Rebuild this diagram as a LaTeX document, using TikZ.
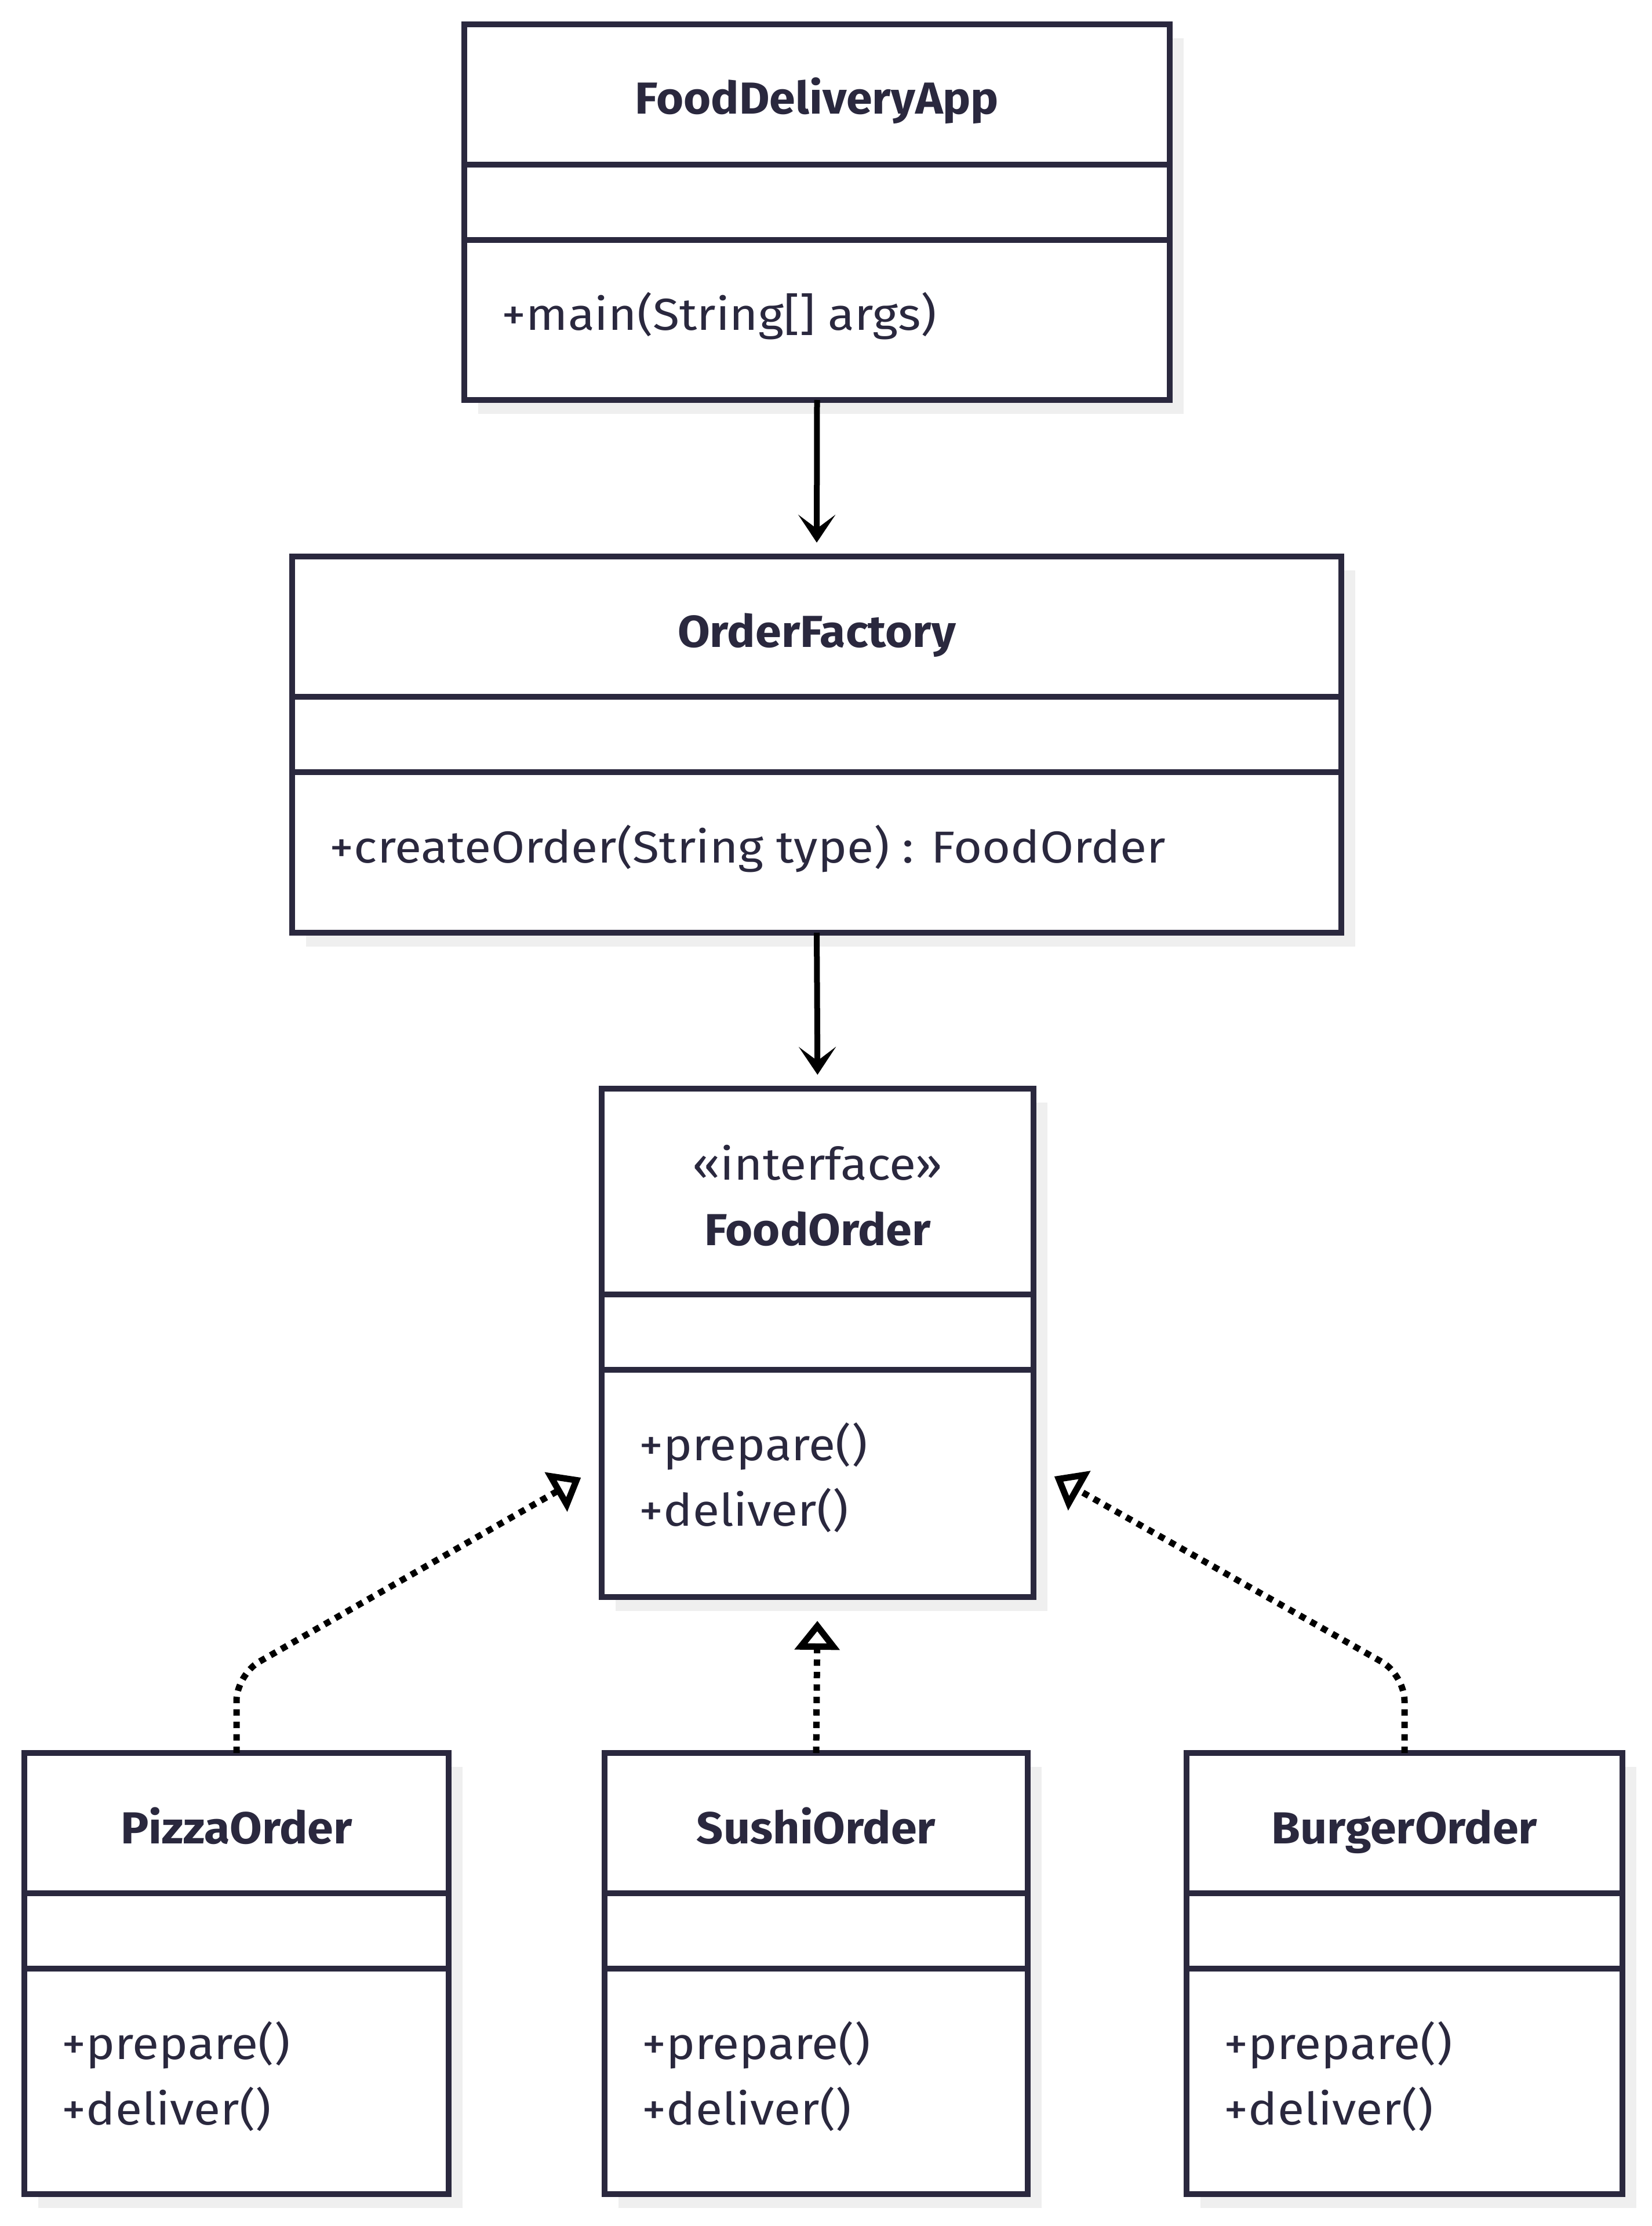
\documentclass[tikz,border=0pt]{standalone}
\usepackage{fontspec}
\setmainfont{Fira Sans}[FakeStretch=1.09, BoldFeatures={FakeStretch=1.045}]
\usetikzlibrary{arrows.meta,shadows,calc}
\definecolor{umlink}{HTML}{2A283E}
\definecolor{umlshadow}{HTML}{EFEFEF}
\newcommand{\umlfont}{\fontsize{22}{26}\selectfont}
\tikzset{
	classbox/.style={draw=umlink, line width=0.105cm, fill=white, inner sep=0pt, outer sep=0pt,
		drop shadow={shadow xshift=0.24cm, shadow yshift=-0.24cm, fill=umlshadow, opacity=1}},
	classline/.style={draw=umlink, line width=0.105cm},
	classtitle/.style={text=umlink, font=\umlfont\bfseries, inner sep=0pt, anchor=base},
	classmember/.style={text=umlink, font=\umlfont, inner sep=0pt, anchor=base west},
	realize/.style={-{Triangle[open, length=0.5cm, width=0.76cm]}, line width=0.11cm,
		dash pattern=on 0.11cm off 0.105cm, shorten >=0.41cm, rounded corners=0.45cm},
}
% name, top centre, width, title baseline, header height, total height, title, members
\newcommand{\umlclass}[8]{%
	\node[classbox, anchor=north, minimum width=#3, minimum height=#6] (#1) at #2 {};
	\draw[classline] ([yshift=-#5]#1.north west) -- ([yshift=-#5]#1.north east);
	\draw[classline] ([yshift=-#5-1.3cm]#1.north west) -- ([yshift=-#5-1.3cm]#1.north east);
	\node[classtitle] at ([yshift=-#4]#1.north) {#7};
	\foreach \m [count=\i] in {#8}
		\node[classmember] at ([xshift=0.64cm, yshift=-#5-1.3cm-0.43cm-\i*1.13cm]#1.north west) {\m};
}

\begin{document}
\begin{tikzpicture}[x=1cm, y=-1cm]
			\useasboundingbox (0,0) rectangle (28.5,38.4);
			\umlclass{app}{(14.095,0.42)}{12.17cm}{1.55cm}{2.42cm}{6.48cm}{FoodDeliveryApp}{+main(String[] args)}
			\umlclass{factory}{(14.09,9.60)}{18.10cm}{1.56cm}{2.42cm}{6.49cm}{OrderFactory}{+createOrder(String type) : FoodOrder}
			\umlclass{foodorder}{(14.105,18.78)}{7.45cm}{2.70cm}{3.55cm}{8.77cm}{FoodOrder}{+prepare(), +deliver()}
			\node[classmember, anchor=base] at ([yshift=-1.57cm]foodorder.north) {«interface»};
			\umlclass{pizza}{(4.08,30.24)}{7.32cm}{1.56cm}{2.42cm}{7.61cm}{PizzaOrder}{+prepare(), +deliver()}
			\umlclass{sushi}{(14.08,30.24)}{7.30cm}{1.56cm}{2.42cm}{7.61cm}{SushiOrder}{+prepare(), +deliver()}
			\umlclass{burger}{(24.23,30.24)}{7.52cm}{1.56cm}{2.42cm}{7.61cm}{BurgerOrder}{+prepare(), +deliver()}
			\coordinate (pizzabend) at ([yshift=1.35cm]pizza.north);
			\coordinate (burgerbend) at ([yshift=1.35cm]burger.north);
			\path[-{Stealth[length=0.48cm, width=0.64cm, inset=0.24cm]}, line width=0.1cm, shorten >=0.24cm]
			(app.south) edge (factory.north)
			(factory.south) edge (foodorder.north);
			\draw[realize] (sushi.north) -- (foodorder.south);
			\draw[realize] (pizza.north) -- (pizzabend) -- (foodorder);
			\draw[realize] (burger.north) -- (burgerbend) -- (foodorder);
		\end{tikzpicture}
\end{document}
